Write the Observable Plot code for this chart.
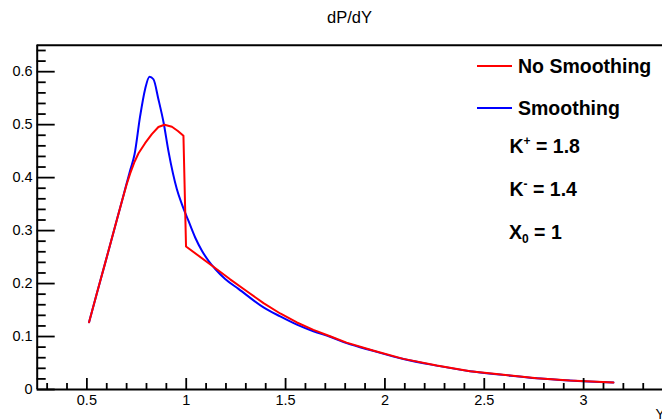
<!DOCTYPE html>
<html>
<head>
<meta charset="utf-8">
<script src="https://cdn.jsdelivr.net/npm/d3@7"></script>
<script src="https://cdn.jsdelivr.net/npm/@observablehq/plot@0.6"></script>
<style>
  html, body { margin: 0; padding: 0; background: #fff; }
  #chart { position: relative; width: 662px; height: 420px; overflow: hidden; }
  svg { font-family: "Liberation Sans", Arial, Helvetica, sans-serif; }
</style>
</head>
<body>
<div id="chart"></div>
<script>
// ---- data ----
const noSmoothX = [0.511, 0.549, 0.593, 0.634, 0.676, 0.700, 0.718, 0.740, 0.760, 0.793, 0.827, 0.860, 0.8905, 0.928, 0.958, 0.986, 0.999, 1.147, 1.221, 1.305, 1.389, 1.473, 1.557, 1.640, 1.724, 1.807, 1.940, 2.093, 2.261, 2.429, 2.596, 2.765, 2.930, 3.150];
const noSmoothY = [0.127, 0.180, 0.240, 0.297, 0.355, 0.387, 0.408, 0.430, 0.446, 0.465, 0.482, 0.4955, 0.4998, 0.496, 0.488, 0.479, 0.270, 0.229, 0.208, 0.1855, 0.163, 0.1435, 0.1265, 0.1125, 0.1005, 0.0885, 0.0735, 0.0578, 0.0452, 0.0345, 0.0277, 0.0213, 0.0170, 0.0132];

const smoothX = [0.511, 0.549, 0.593, 0.634, 0.676, 0.718, 0.740, 0.768, 0.793, 0.815, 0.835, 0.860, 0.886, 0.911, 0.953, 0.978, 1.011, 1.045, 1.079, 1.112, 1.146, 1.196, 1.263, 1.389, 1.473, 1.557, 1.640, 1.724, 1.807, 1.940, 2.093, 2.261, 2.429, 2.596, 2.765, 2.930, 3.150];
const smoothY = [0.127, 0.180, 0.240, 0.297, 0.355, 0.414, 0.444, 0.516, 0.567, 0.5906, 0.5857, 0.548, 0.504, 0.449, 0.378, 0.350, 0.3186, 0.287, 0.262, 0.243, 0.2275, 0.2087, 0.190, 0.155, 0.138, 0.1225, 0.110, 0.0995, 0.0875, 0.0730, 0.0576, 0.0451, 0.0344, 0.0276, 0.0212, 0.0169, 0.0131];

const xMajor = [0.5, 1, 1.5, 2, 2.5, 3];
const xMinor = [0.3, 0.4, 0.6, 0.7, 0.8, 0.9, 1.1, 1.2, 1.3, 1.4, 1.6, 1.7, 1.8, 1.9, 2.1, 2.2, 2.3, 2.4, 2.6, 2.7, 2.8, 2.9, 3.1, 3.2, 3.3, 3.4];
const yMajor = [0, 0.1, 0.2, 0.3, 0.4, 0.5, 0.6];
const yMinor = [0.02, 0.04, 0.06, 0.08, 0.12, 0.14, 0.16, 0.18, 0.22, 0.24, 0.26, 0.28, 0.32, 0.34, 0.36, 0.38, 0.42, 0.44, 0.46, 0.48, 0.52, 0.54, 0.56, 0.58, 0.62, 0.64];
const xDomain = [0.25, 3.45];
const yDomain = [0, 0.65];

const titleText = "dP/dY";
const xTitle = "Y";
const seriesNames = ["No Smoothing", "Smoothing"];
const seriesColors = ["#ff0000", "#0000ff"];

const red = noSmoothX.map((x, i) => ({x, y: noSmoothY[i]}));
const blue = smoothX.map((x, i) => ({x, y: smoothY[i]}));

// ---- layout ----
const W = 662, H = 420;
const mL = 36.7, mT = 44.7, mB = 31, mR = 0;
const pxPerUnit = 198.7;
const plotW = W - mL - mR, plotH = H - mT - mB;

const fmt = d => d === 0 ? "0" : String(d);

const chart = Plot.plot({
  width: W, height: H,
  marginLeft: mL, marginTop: mT, marginBottom: mB, marginRight: mR,
  x: {domain: xDomain, range: [mL, mL + (xDomain[1] - xDomain[0]) * pxPerUnit], axis: null},
  y: {domain: yDomain, axis: null},
  style: {fontFamily: '"Liberation Sans", Arial, sans-serif', background: "white", overflow: "hidden"},
  marks: [
    Plot.line(blue, {x: "x", y: "y", stroke: seriesColors[1], strokeWidth: 2, curve: "monotone-x"}),
    Plot.line(red, {x: "x", y: "y", stroke: seriesColors[0], strokeWidth: 2, curve: "linear", strokeLinejoin: "round"}),
    // frame
    Plot.ruleY([yDomain[1]], {stroke: "black", strokeWidth: 2}),
    Plot.ruleY([yDomain[0]], {stroke: "black", strokeWidth: 2}),
    Plot.ruleX([xDomain[0]], {stroke: "black", strokeWidth: 2}),
    // x ticks (inward)
    Plot.tickX(xMajor, {x: d => d, stroke: "black", strokeWidth: 1.8, insetTop: plotH - 11}),
    Plot.tickX(xMinor, {x: d => d, stroke: "black", strokeWidth: 1.8, insetTop: plotH - 6}),
    // y ticks (inward)
    Plot.tickY(yMajor, {y: d => d, stroke: "black", strokeWidth: 1.8, insetRight: plotW - 18}),
    Plot.tickY(yMinor, {y: d => d, stroke: "black", strokeWidth: 1.8, insetRight: plotW - 9}),
    // tick labels
    Plot.text(xMajor, {x: d => d, frameAnchor: "bottom", lineAnchor: "top", dy: 5, text: fmt, fontSize: 14.5, fill: "black"}),
    Plot.text(yMajor, {y: d => d, frameAnchor: "left", textAnchor: "end", dx: -4.5, text: fmt, fontSize: 14.5, fill: "black"})
  ]
});

document.getElementById("chart").appendChild(chart);

// title, axis title and legend as real text in the SVG
const svg = d3.select(chart);
svg.append("text").attr("x", 349.5).attr("y", 23).attr("text-anchor", "middle")
  .attr("font-size", 16.5).attr("fill", "black").text(titleText);
svg.append("text").attr("x", 655.5).attr("y", 419).attr("text-anchor", "start")
  .attr("font-size", 14).attr("fill", "black").text(xTitle);

const leg = svg.append("g").attr("font-weight", "bold").attr("font-size", 19.5)
  .attr("fill", "black").attr("text-anchor", "start");
const legRows = [{name: seriesNames[0], color: seriesColors[0], y: 66}, {name: seriesNames[1], color: seriesColors[1], y: 108}];
legRows.forEach(r => {
  leg.append("line").attr("x1", 477).attr("x2", 512).attr("y1", r.y).attr("y2", r.y)
    .attr("stroke", r.color).attr("stroke-width", 2);
  leg.append("text").attr("x", 518).attr("y", r.y + 7).text(r.name);
});
const t1 = leg.append("text").attr("x", 509.5).attr("y", 153);
t1.append("tspan").text("K");
t1.append("tspan").attr("font-size", 12).attr("dy", -8).text("+");
t1.append("tspan").attr("dy", 8).text(" = 1.8");
const t2 = leg.append("text").attr("x", 509.5).attr("y", 196);
t2.append("tspan").text("K");
t2.append("tspan").attr("font-size", 12).attr("dy", -8).text("-");
t2.append("tspan").attr("dy", 8).text(" = 1.4");
const t3 = leg.append("text").attr("x", 509).attr("y", 238.5);
t3.append("tspan").text("X");
t3.append("tspan").attr("font-size", 12).attr("dy", 4).text("0");
t3.append("tspan").attr("dy", -4).text(" = 1");
</script>
</body>
</html>
